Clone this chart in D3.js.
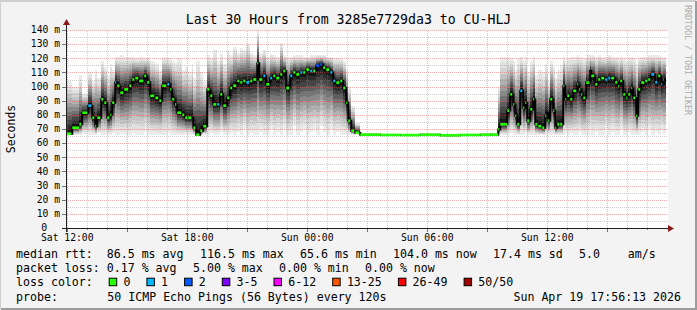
<!DOCTYPE html>
<html>
<head>
<meta charset="utf-8">
<script src="https://cdn.jsdelivr.net/npm/d3@7"></script>
<style>
  body { margin: 0; background: #f3f3f3; }
  text { font-family: "DejaVu Sans Mono", monospace; fill: #000; }
</style>
</head>
<body>
<svg id="chart" width="697" height="310"></svg>
<script>
// ---- data ----
var titleText = "Last 30 Hours from 3285e7729da3 to CU-HLJ";
var startTime = new Date(2026, 3, 18, 11, 56, 13);
var endTime = new Date(2026, 3, 19, 17, 56, 13);
var origin = new Date(2026, 3, 18, 12, 0, 0);   // Sat 12:00, sample times are minutes after this

var sampleMinutes = [
  -3, 15, 36, 45, 63, 75, 84, 90, 102, 111,
  120, 129, 135, 144, 150, 159, 171, 186, 195, 204,
  216, 231, 240, 249, 264, 276, 285, 300, 309, 315,
  324, 330, 345, 354, 363, 375, 378, 387, 399, 408,
  420, 429, 438, 450, 459, 468, 480, 489, 498, 510,
  519, 528, 537, 549, 558, 570, 576, 588, 597, 609,
  618, 627, 639, 648, 657, 669, 678, 687, 699, 708,
  717, 729, 738, 747, 759, 768, 777, 789, 798, 807,
  819, 828, 837, 843, 852, 864, 879, 939, 999, 1059,
  1119, 1179, 1239, 1269, 1293, 1299, 1320, 1329, 1338, 1344,
  1350, 1359, 1368, 1374, 1380, 1389, 1398, 1404, 1413, 1425,
  1434, 1440, 1443, 1449, 1458, 1464, 1470, 1479, 1488, 1494,
  1500, 1509, 1518, 1530, 1536, 1542, 1548, 1557, 1569, 1572,
  1584, 1593, 1602, 1614, 1623, 1632, 1644, 1653, 1659, 1668,
  1677, 1683, 1692, 1698, 1707, 1713, 1722, 1734, 1743, 1752,
  1764, 1773, 1782, 1788, 1793
];

var medianMs = [
  66.7, 70.9, 73.3, 81.5, 86.5, 78, 72, 78, 91, 88.6,
  78, 80, 88.6, 103, 100.6, 95.7, 98, 100.6, 105, 106,
  104, 107.6, 103, 93.5, 92, 90, 100.6, 101.6, 98, 91,
  87.4, 81.5, 80, 78, 78, 78, 70.9, 66, 68.8, 72,
  98, 93.5, 87.4, 87.4, 94.5, 86.5, 92, 99, 100.6, 104,
  103, 104, 103, 104, 105, 116.5, 105, 107.6, 101.6, 106,
  107.6, 106, 108.6, 111, 99, 107.6, 110, 108.6, 110, 110,
  112, 111, 111, 114.8, 115.7, 113.4, 112, 110, 104, 102.8,
  104, 99, 88.6, 75.9, 68.8, 67.4, 66, 65.8, 65.7, 65.9,
  65.6, 65.8, 65.9, 66, 69.7, 73.3, 83, 94.5, 87.4, 79.4,
  73.3, 97, 85, 88.6, 75.9, 83.9, 91, 73.3, 72, 70.9,
  79.4, 81.5, 75.9, 91, 83, 70.9, 73.3, 73.3, 100.4, 91,
  93.5, 91, 97, 101.6, 98, 94.5, 92, 102.8, 111, 107.6,
  101.6, 105, 106, 105, 106, 106, 103, 100.4, 104, 94.5,
  92, 94.5, 99, 92, 79.4, 98, 102.8, 104, 105, 108.6,
  103, 107.6, 101.6, 105, 104
];

var smokeLowMs = [
  65.8, 66, 66, 66.5, 66, 66, 66, 67, 66, 66,
  66, 66, 67, 66, 66, 66.5, 66, 66, 67, 66,
  66, 68, 66, 66, 66, 66, 66, 67, 66, 66,
  66, 66, 66, 66, 66, 66, 66, 65.8, 66, 66,
  66, 67, 66, 66, 68, 66, 66, 67, 66, 68,
  66, 70, 66, 67, 66, 66, 68, 66, 66, 70,
  66, 68, 66, 70, 66, 66, 72, 66, 68, 70,
  66, 68, 70, 66, 72, 68, 66, 70, 66, 68,
  66, 66, 66, 66, 66, 66, 65.6, 65.6, 65.5, 65.6,
  65.5, 65.6, 65.6, 65.7, 66, 66, 66, 67, 66, 66,
  66, 66, 66, 67, 66, 66, 66, 66, 66, 66,
  66, 66, 66, 66, 66, 66, 66, 66, 66, 67,
  66, 67, 66, 66, 68, 66, 66, 66, 70, 66,
  68, 66, 66, 70, 66, 68, 66, 66, 70, 66,
  66, 68, 66, 66, 66, 66, 68, 66, 70, 66,
  68, 66, 70, 66, 67
];

var smokeHighMs = [
  104, 100, 108, 95, 110, 104, 112, 106, 118, 114,
  108, 116, 112, 121, 121, 122, 121, 121, 121, 120,
  121, 120, 121, 118, 116, 112, 121, 120, 120, 118,
  117, 120, 112, 114, 110, 116, 106, 118, 110, 104,
  122, 120, 126, 118, 123, 116, 125, 122, 128, 124,
  127, 126, 130, 124, 122, 140, 124, 126, 121, 123,
  122, 121, 131, 122, 121, 121, 122, 122, 122, 121,
  121, 122, 122, 122, 122, 122, 121, 121, 120, 120,
  120, 118, 112, 100, 86, 74, 66.4, 66.3, 66.3, 66.4,
  66.3, 66.3, 66.4, 66.5, 100, 121, 121, 120, 118, 112,
  120, 121, 118, 121, 110, 118, 121, 108, 112, 110,
  116, 112, 104, 118, 114, 106, 112, 115, 121, 118,
  120, 121, 121, 122, 121, 121, 120, 122, 122, 122,
  121, 122, 121, 121, 122, 121, 121, 120, 121, 120,
  118, 121, 121, 120, 116, 121, 121, 121, 122, 122,
  122, 122, 121, 121, 121
];

// samples that lost pings (minutes after Sat 12:00, pings lost of 50)
var lossMinutes = [63, 144, 300, 450, 537, 588, 609, 669, 699, 729, 747, 759, 789, 798, 1359, 1569, 1614, 1623, 1752, 1764, 1782];
var lossCounts  = [1, 1, 1, 1, 1, 1, 1, 1, 1, 1, 2, 2, 1, 1, 1, 1, 1, 1, 1, 1, 1];

var yTicksMs = [0, 10, 20, 30, 40, 50, 60, 70, 80, 90, 100, 110, 120, 130, 140];

var lossLabels = ["0", "1", "2", "3-5", "6-12", "13-25", "26-49", "50/50"];
var lossFloor = [0, 1, 2, 3, 6, 13, 26, 50];
var lossColors = ["#26ff00", "#00b8ff", "#0059ff", "#7e00ff", "#ff00ff", "#ff5500", "#ff0000", "#a10000"];

var rttStats = ["median rtt:  86.5 ms avg", "116.5 ms max", "65.6 ms min", "104.0 ms now", "17.4 ms sd", "5.0    am/s"];
var lossStats = ["packet loss: 0.17 % avg", "5.00 % max", "0.00 % min", "0.00 % now"];
var probeText = "50 ICMP Echo Pings (56 Bytes) every 120s";
var stampText = "Sun Apr 19 17:56:13 2026";

// ---- drawing ----
var svg = d3.select("#chart");
var W = 697, H = 310;

var x = d3.scaleTime().domain([startTime, endTime]).range([66, 666]);
var y = d3.scaleLinear().domain([0, 140]).range([228, 30]);

function toDate(m) { return new Date(origin.getTime() + m * 60000); }
function lossColor(n) {
  var c = 0;
  lossFloor.forEach(function(f, i) { if (n >= f) c = i; });
  return lossColors[c];
}

var samples = sampleMinutes.map(function(m, i) {
  var li = lossMinutes.indexOf(m);
  return {
    t: toDate(m),
    t1: i < sampleMinutes.length - 1 ? toDate(sampleMinutes[i + 1]) : endTime,
    med: medianMs[i], lo: smokeLowMs[i], hi: smokeHighMs[i],
    loss: li >= 0 ? lossCounts[li] : 0
  };
});

// background + 3d frame
svg.append("rect").attr("width", W).attr("height", H).attr("fill", "#f3f3f3");
svg.append("path").attr("d", "M0,309 V1 H696").attr("fill", "none")
   .attr("stroke", "#cfcfcf").attr("stroke-width", 2);
svg.append("path").attr("d", "M1,309 H696 V1").attr("fill", "none")
   .attr("stroke", "#9c9c9c").attr("stroke-width", 2);

// canvas
var x0 = x.range()[0], x1 = 668;
svg.append("rect").attr("x", x0).attr("y", y(140)).attr("width", x1 - x0)
   .attr("height", y(0) - y(140)).attr("fill", "#fff");

// smoke: nested rank bands, darker towards the median
var bands = 12;
var gray = d3.interpolateRgb("#ebebeb", "#141414");
var smoke = svg.append("g").attr("shape-rendering", "crispEdges");
samples.forEach(function(d) {
  for (var k = 0; k < bands; k++) {
    var f = 1 - k / bands;
    var lo = d.med - (d.med - d.lo) * f;
    var hi = d.med + (d.hi - d.med) * f;
    smoke.append("rect")
      .attr("x", x(d.t))
      .attr("width", Math.max(x(d.t1) - x(d.t), 1))
      .attr("y", y(hi))
      .attr("height", Math.max(y(lo) - y(hi), 0.5))
      .attr("fill", gray(Math.pow(k / (bands - 1), 1.3)));
  }
});

// grid (rrdtool draws it over the data)
var grid = svg.append("g").attr("shape-rendering", "crispEdges").attr("stroke-dasharray", "1,1");
d3.range(5, 141, 5).forEach(function(v) {
  var yy = Math.round(y(v)) + 0.5;
  grid.append("line").attr("x1", x0).attr("x2", x1).attr("y1", yy).attr("y2", yy)
      .attr("stroke", v % 10 === 0 ? "rgba(235,70,70,0.45)" : "rgba(130,130,130,0.4)");
});
d3.timeHour.range(startTime, endTime).forEach(function(t) {
  var xx = Math.round(x(t)) + 0.5;
  grid.append("line").attr("x1", xx).attr("x2", xx).attr("y1", y(0)).attr("y2", y(140))
      .attr("stroke", t.getHours() % 3 === 0 ? "rgba(235,70,70,0.45)" : "rgba(130,130,130,0.4)");
});

// median: black steps, coloured by loss on the level parts
var stepLine = d3.line().x(function(d) { return x(d.t); }).y(function(d) { return y(d.med); })
  .curve(d3.curveStepAfter);
svg.append("path")
  .datum(samples.concat([{ t: endTime, med: medianMs[medianMs.length - 1] }]))
  .attr("d", stepLine).attr("fill", "none").attr("stroke", "#000").attr("stroke-width", 2);

svg.append("g").selectAll("line").data(samples).enter().append("line")
  .attr("x1", function(d) { return x(d.t); })
  .attr("x2", function(d) {
    var span = x(d.t1) - x(d.t);
    return x(d.t) + (span > 6 ? span : span - 1);
  })
  .attr("y1", function(d) { return y(d.med); })
  .attr("y2", function(d) { return y(d.med); })
  .attr("stroke", function(d) { return lossColor(d.loss); })
  .attr("stroke-width", 2.6);

// axes
var axis = svg.append("g").attr("shape-rendering", "crispEdges");
yTicksMs.forEach(function(v) {
  var yy = Math.round(y(v)) + 0.5;
  axis.append("line").attr("x1", 62).attr("x2", 66).attr("y1", yy).attr("y2", yy).attr("stroke", "#777");
});
d3.timeHour.range(startTime, endTime).forEach(function(t) {
  var xx = Math.round(x(t)) + 0.5;
  axis.append("line").attr("x1", xx).attr("x2", xx).attr("y1", 228).attr("y2", t.getHours() % 3 === 0 ? 232 : 230)
      .attr("stroke", "#777");
});
axis.append("line").attr("x1", 62).attr("x2", 670).attr("y1", 228.5).attr("y2", 228.5).attr("stroke", "#222");
axis.append("line").attr("x1", 66.5).attr("x2", 66.5).attr("y1", 232).attr("y2", 25).attr("stroke", "#222");
svg.append("path").attr("d", "M668,225 L674,228.5 L668,232 Z").attr("fill", "#8b1a1a");
svg.append("path").attr("d", "M63,25 L66.5,19 L70,25 Z").attr("fill", "#8b1a1a");

svg.append("g").selectAll("text").data(yTicksMs).enter().append("text")
  .attr("x", function(v) { return v === 0 ? 47 : 60; })
  .attr("y", function(v) { return y(v) + 3.3; })
  .attr("text-anchor", "end").attr("font-size", "9.7px")
  .text(function(v) { return v === 0 ? "0" : v + " m"; });

svg.append("g").selectAll("text").data(d3.timeHour.every(6).range(startTime, endTime)).enter().append("text")
  .attr("x", function(t) { return x(t); }).attr("y", 241)
  .attr("text-anchor", "middle").attr("font-size", "9.7px")
  .text(d3.timeFormat("%a %H:%M"));

// titles
svg.append("text").attr("x", 348.5).attr("y", 24).attr("text-anchor", "middle")
   .attr("font-size", "13.2px").text(titleText);
svg.append("text").attr("transform", "translate(14.5,129) rotate(-90)")
   .attr("text-anchor", "middle").attr("font-size", "11.5px").text("Seconds");
svg.append("text").attr("transform", "translate(685,5) rotate(90)")
   .attr("font-size", "8.5px").attr("textLength", 110).style("fill", "#adadad")
   .text("RRDTOOL / TOBI OETIKER");

// legend: rrdtool-style flow, items separated by a fixed gap
var rowY = [258.3, 272.4, 286.4, 300.5];
var charW = 7, gap = 16;
var leg = svg.append("g").attr("font-size", "11.6px");
function put(tx, xx, yy) {
  leg.append("text").attr("x", xx).attr("y", yy).attr("xml:space", "preserve").text(tx);
  return xx + tx.length * charW + gap;
}

var cx = 16;
rttStats.forEach(function(s) { cx = put(s, cx, rowY[0]); });
cx = 16;
lossStats.forEach(function(s) { cx = put(s, cx, rowY[1]); });

cx = put("loss color:", 16, rowY[2]) - gap + 15.7;
lossLabels.forEach(function(s, i) {
  leg.append("rect").attr("x", cx + 0.5).attr("y", rowY[2] - 8.2).attr("width", 7.5).attr("height", 7.5)
     .attr("fill", lossColors[i]).attr("stroke", "#000").attr("stroke-width", 1);
  cx = put(s, cx + 14.7, rowY[2]);
});

put("probe:", 16, rowY[3]);
put(probeText, 107.3, rowY[3]);
leg.append("text").attr("x", 681).attr("y", rowY[3]).attr("text-anchor", "end").text(stampText);
</script>
</body>
</html>
